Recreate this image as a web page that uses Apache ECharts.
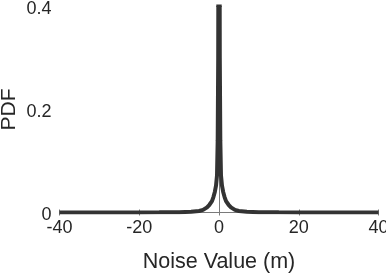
<!DOCTYPE html>
<html>
<head>
<meta charset="utf-8">
<script src="https://cdn.jsdelivr.net/npm/echarts@6/dist/echarts.min.js"></script>
<style>html,body{margin:0;padding:0;background:#fff;}#c{width:386px;height:273px;}</style>
</head>
<body>
<div id="c"></div>
<script>
var xTicks = [-40, -20, 0, 20, 40];
var yTicks = [0, 0.2, 0.4];
var noiseX = [-40, -30, -20, -15, -10, -7, -5, -4, -3, -2.4, -1.76, -1.4, -1.05, -0.75, -0.5, -0.33, -0.2, -0.1, -0.05, 0,
              0.05, 0.1, 0.2, 0.33, 0.5, 0.75, 1.05, 1.4, 1.76, 2.4, 3, 4, 5, 7, 10, 15, 20, 30, 40];
var pdfY = [0.00002, 0.00005, 0.00015, 0.0003, 0.0007, 0.0015, 0.003, 0.005, 0.01, 0.015, 0.022, 0.03, 0.04, 0.052, 0.072, 0.14, 0.3, 0.7, 1.2, 2.0,
            1.2, 0.7, 0.3, 0.14, 0.072, 0.052, 0.04, 0.03, 0.022, 0.015, 0.01, 0.005, 0.003, 0.0015, 0.0007, 0.0003, 0.00015, 0.00005, 0.00002];

var pts = noiseX.map(function (x, i) { return [x, pdfY[i]]; });
var axisGray = '#7a7a7a';
var txt = '#262626';
var font = 'Liberation Sans, Arial, Helvetica, sans-serif';

var chart = echarts.init(document.getElementById('c'));
chart.setOption({
  animation: false,
  grid: { left: 59.5, right: 7.5, top: 6.5, bottom: 60.5, containLabel: false, outerBoundsMode: 'none' },
  xAxis: [{
    type: 'value', min: xTicks[0], max: xTicks[xTicks.length - 1], interval: 20,
    name: 'Noise Value (m)', nameLocation: 'middle', nameGap: 39, nameMoveOverlap: false,
    nameTextStyle: { color: txt, fontSize: 21.5, fontFamily: font },
    axisLine: { show: true, lineStyle: { color: axisGray, width: 1 } },
    axisTick: { show: true, inside: true, length: 3, lineStyle: { color: axisGray } },
    axisLabel: { color: txt, fontSize: 18, fontFamily: font, margin: 7 },
    splitLine: { show: false }
  }, {
    type: 'value', position: 'top', min: xTicks[0], max: xTicks[xTicks.length - 1], interval: 20,
    axisLine: { show: true, lineStyle: { color: axisGray, width: 1 } },
    axisTick: { show: true, inside: true, length: 3, lineStyle: { color: axisGray } },
    axisLabel: { show: false }, splitLine: { show: false }
  }],
  yAxis: [{
    type: 'value', min: yTicks[0], max: yTicks[yTicks.length - 1], interval: 0.2,
    name: 'PDF', nameLocation: 'middle', nameGap: 40, nameMoveOverlap: false,
    nameTextStyle: { color: txt, fontSize: 21, fontFamily: font },
    axisLine: { show: true, lineStyle: { color: axisGray, width: 1 } },
    axisTick: { show: true, inside: true, length: 3, lineStyle: { color: axisGray } },
    axisLabel: { color: txt, fontSize: 18, fontFamily: font, margin: 8,
      verticalAlign: 'top', lineHeight: 5,
      formatter: function (v) { return v === 0 ? '0' : String(Math.round(v * 10) / 10); } },
    splitLine: { show: false }
  }, {
    type: 'value', position: 'right', min: yTicks[0], max: yTicks[yTicks.length - 1], interval: 0.2,
    axisLine: { show: true, lineStyle: { color: axisGray, width: 1 } },
    axisTick: { show: true, inside: true, length: 3, lineStyle: { color: axisGray } },
    axisLabel: { show: false }, splitLine: { show: false }
  }],
  series: [{
    type: 'line', data: pts, xAxisIndex: 0, yAxisIndex: 0,
    showSymbol: false, symbol: 'none', clip: true,
    lineStyle: { color: '#333333', width: 4 }
  }]
});
</script>
</body>
</html>
